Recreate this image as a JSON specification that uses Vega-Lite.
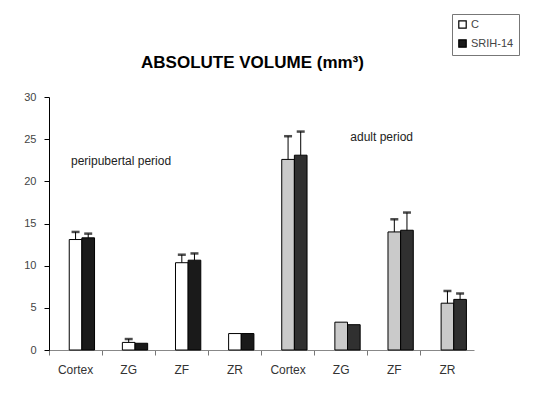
{
  "$schema": "https://vega.github.io/schema/vega-lite/v6.json",
  "width": 425,
  "height": 253,
  "autosize": {"type": "none"},
  "padding": {"left": 49, "top": 97, "right": 69, "bottom": 43},
  "background": "white",
  "title": {
    "text": "ABSOLUTE VOLUME (mm³)",
    "font": "Liberation Sans",
    "fontSize": 17,
    "fontWeight": "bold",
    "color": "#000000",
    "anchor": "middle",
    "frame": "group",
    "dx": -9,
    "offset": -58
  },
  "data": {
    "values": [
      {"bar": "peripubertal Cortex", "period": "peripubertal", "group": "C", "value": 13.1, "hi": 14.0},
      {"bar": "peripubertal Cortex", "period": "peripubertal", "group": "SRIH-14", "value": 13.3, "hi": 13.8},
      {"bar": "peripubertal ZG", "period": "peripubertal", "group": "C", "value": 0.9, "hi": 1.3},
      {"bar": "peripubertal ZG", "period": "peripubertal", "group": "SRIH-14", "value": 0.8, "hi": null},
      {"bar": "peripubertal ZF", "period": "peripubertal", "group": "C", "value": 10.35, "hi": 11.3},
      {"bar": "peripubertal ZF", "period": "peripubertal", "group": "SRIH-14", "value": 10.65, "hi": 11.45},
      {"bar": "peripubertal ZR", "period": "peripubertal", "group": "C", "value": 1.95, "hi": null},
      {"bar": "peripubertal ZR", "period": "peripubertal", "group": "SRIH-14", "value": 1.95, "hi": null},
      {"bar": "adult Cortex", "period": "adult", "group": "C", "value": 22.6, "hi": 25.35},
      {"bar": "adult Cortex", "period": "adult", "group": "SRIH-14", "value": 23.1, "hi": 25.9},
      {"bar": "adult ZG", "period": "adult", "group": "C", "value": 3.3, "hi": null},
      {"bar": "adult ZG", "period": "adult", "group": "SRIH-14", "value": 3.0, "hi": null},
      {"bar": "adult ZF", "period": "adult", "group": "C", "value": 14.0, "hi": 15.5},
      {"bar": "adult ZF", "period": "adult", "group": "SRIH-14", "value": 14.2, "hi": 16.3},
      {"bar": "adult ZR", "period": "adult", "group": "C", "value": 5.55, "hi": 7.0},
      {"bar": "adult ZR", "period": "adult", "group": "SRIH-14", "value": 6.0, "hi": 6.7}
    ]
  },
  "encoding": {
    "x": {
      "field": "bar",
      "type": "nominal",
      "sort": ["peripubertal Cortex", "peripubertal ZG", "peripubertal ZF", "peripubertal ZR", "adult Cortex", "adult ZG", "adult ZF", "adult ZR"],
      "scale": {"paddingInner": 0, "paddingOuter": 0},
      "axis": {
        "title": null,
        "labelAngle": 0,
        "labelExpr": "split(datum.label, ' ')[1]",
        "labelFont": "Liberation Sans",
        "labelFontSize": 12,
        "labelColor": "#333333",
        "labelPadding": 9,
        "bandPosition": 0,
        "tickSize": 5,
        "tickColor": "#777777",
        "domainColor": "#888888",
        "grid": false
      }
    },
    "xOffset": {
      "field": "group",
      "type": "nominal",
      "scale": {"paddingOuter": 0.6, "paddingInner": 0}
    }
  },
  "layer": [
    {
      "transform": [{"filter": "datum.period === 'peripubertal'"}],
      "mark": {"type": "bar", "stroke": "#000000", "strokeWidth": 1},
      "encoding": {
        "y": {
          "field": "value",
          "type": "quantitative",
          "scale": {"domain": [0, 30]},
          "axis": {
            "title": null,
            "values": [0, 5, 10, 15, 20, 25, 30],
            "grid": false,
            "labelFont": "Liberation Sans",
            "labelFontSize": 11,
            "labelColor": "#444444",
            "labelPadding": 8,
            "tickSize": 5,
            "tickColor": "#000000",
            "domainColor": "#000000"
          }
        },
        "fill": {
          "field": "group",
          "type": "nominal",
          "scale": {"domain": ["C", "SRIH-14"], "range": ["#ffffff", "#1a1a1a"]},
          "legend": {
            "title": null,
            "orient": "none",
            "legendX": 403,
            "legendY": -83,
            "strokeColor": "#777777",
            "fillColor": "#ffffff",
            "padding": 5,
            "symbolType": "square",
            "symbolSize": 55,
            "symbolStrokeColor": "#000000",
            "symbolStrokeWidth": 1.2,
            "symbolOffset": 0,
            "labelFont": "Liberation Sans",
            "labelFontSize": 11,
            "labelColor": "#444444",
            "labelOffset": 3,
            "rowPadding": 6
          }
        }
      }
    },
    {
      "transform": [{"filter": "datum.period === 'adult'"}],
      "mark": {"type": "bar", "stroke": "#000000", "strokeWidth": 1},
      "encoding": {
        "y": {"field": "value", "type": "quantitative"},
        "fill": {
          "field": "group",
          "type": "nominal",
          "scale": {"domain": ["C", "SRIH-14"], "range": ["#cacaca", "#303030"]},
          "legend": null
        }
      }
    },
    {
      "transform": [{"filter": "datum.hi != null"}],
      "mark": {"type": "rule", "color": "#000000", "strokeWidth": 1},
      "encoding": {
        "y": {"field": "value", "type": "quantitative"},
        "y2": {"field": "hi"}
      }
    },
    {
      "transform": [{"filter": "datum.hi != null"}],
      "mark": {"type": "tick", "color": "#000000", "size": 8, "thickness": 2.5, "orient": "horizontal"},
      "encoding": {
        "y": {"field": "hi", "type": "quantitative"}
      }
    },
    {
      "data": {"values": [{}]},
      "mark": {"type": "text", "text": "peripubertal period", "font": "Liberation Sans", "fontSize": 12, "color": "#222222", "dx": 5},
      "encoding": {
        "x": {"datum": "peripubertal ZG"},
        "y": {"datum": 22.4}
      }
    },
    {
      "data": {"values": [{}]},
      "mark": {"type": "text", "text": "adult period", "font": "Liberation Sans", "fontSize": 12, "color": "#222222"},
      "encoding": {
        "x": {"datum": "adult ZF"},
        "y": {"datum": 25.2}
      }
    }
  ],
  "resolve": {"scale": {"fill": "independent"}},
  "config": {"view": {"stroke": null}}
}
